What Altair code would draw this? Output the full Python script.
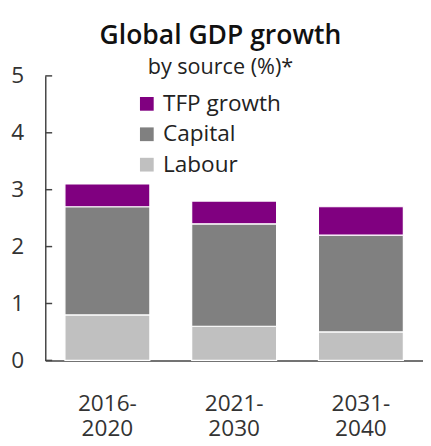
import altair as alt
import pandas as pd

periods = ["2016-2020", "2021-2030", "2031-2040"]
labour = [0.8, 0.6, 0.5]
capital = [1.9, 1.8, 1.7]
tfp = [0.4, 0.4, 0.5]
sources = ["TFP growth", "Capital", "Labour"]
colors = ["#800080", "#808080", "#c0c0c0"]
y_ticks = [0, 1, 2, 3, 4, 5]

rows = []
for i, p in enumerate(periods):
    rows.append({"period": p, "source": "Labour", "value": labour[i], "ord": 0})
    rows.append({"period": p, "source": "Capital", "value": capital[i], "ord": 1})
    rows.append({"period": p, "source": "TFP growth", "value": tfp[i], "ord": 2})
df = pd.DataFrame(rows)
ticks_df = pd.DataFrame({"t": y_ticks})

FONT = "Open Sans"

bars = alt.Chart(df).mark_bar(stroke="white", strokeWidth=1.2).encode(
    x=alt.X("period:N", sort=periods, title=None,
            scale=alt.Scale(paddingInner=0.33, paddingOuter=0.155),
            axis=alt.Axis(labelAngle=0, ticks=False, labelFontSize=23, labelColor="#333",
                          labelPadding=33, labelFont=FONT, domainColor="#444", domainWidth=1.5,
                          labelLineHeight=26,
                          labelExpr="[slice(datum.label,0,5), slice(datum.label,5)]")),
    y=alt.Y("value:Q", stack="zero", title=None,
            scale=alt.Scale(domain=[0, 5], nice=False),
            axis=alt.Axis(values=y_ticks, format="d", ticks=False, grid=False, labelFontSize=23,
                          labelColor="#333", labelPadding=22, labelFont=FONT,
                          domainColor="#444", domainWidth=1.5)),
    color=alt.Color("source:N", scale=alt.Scale(domain=sources, range=colors),
                    legend=alt.Legend(title=None, orient="none", legendX=92, legendY=17,
                                      symbolType="square", symbolSize=196, symbolStrokeWidth=0,
                                      labelFontSize=23, labelFont=FONT, labelColor="#222",
                                      rowPadding=7, labelOffset=5)),
    order=alt.Order("ord:Q"),
)

tick_marks = alt.Chart(ticks_df).mark_rule(color="#444", strokeWidth=1.5).encode(
    y=alt.Y("t:Q"), x=alt.value(0), x2=alt.value(7)
)

chart = alt.layer(bars, tick_marks).properties(
    width=385, height=290,
    autosize=alt.AutoSizeParams(type="none"),
    padding={"left": 38, "top": 65, "right": 0, "bottom": 80},
    title=alt.TitleParams(text="Global GDP growth", subtitle="by source (%)*",
                          anchor="middle", fontSize=27, fontWeight=600, subtitleFontSize=22,
                          font=FONT, subtitleFont=FONT, color="#111", subtitleColor="#222",
                          subtitlePadding=7, offset=-14, dx=-14),
).configure_view(stroke=None)

chart.save("out.html", embed_options={"renderer": "svg", "actions": False})
